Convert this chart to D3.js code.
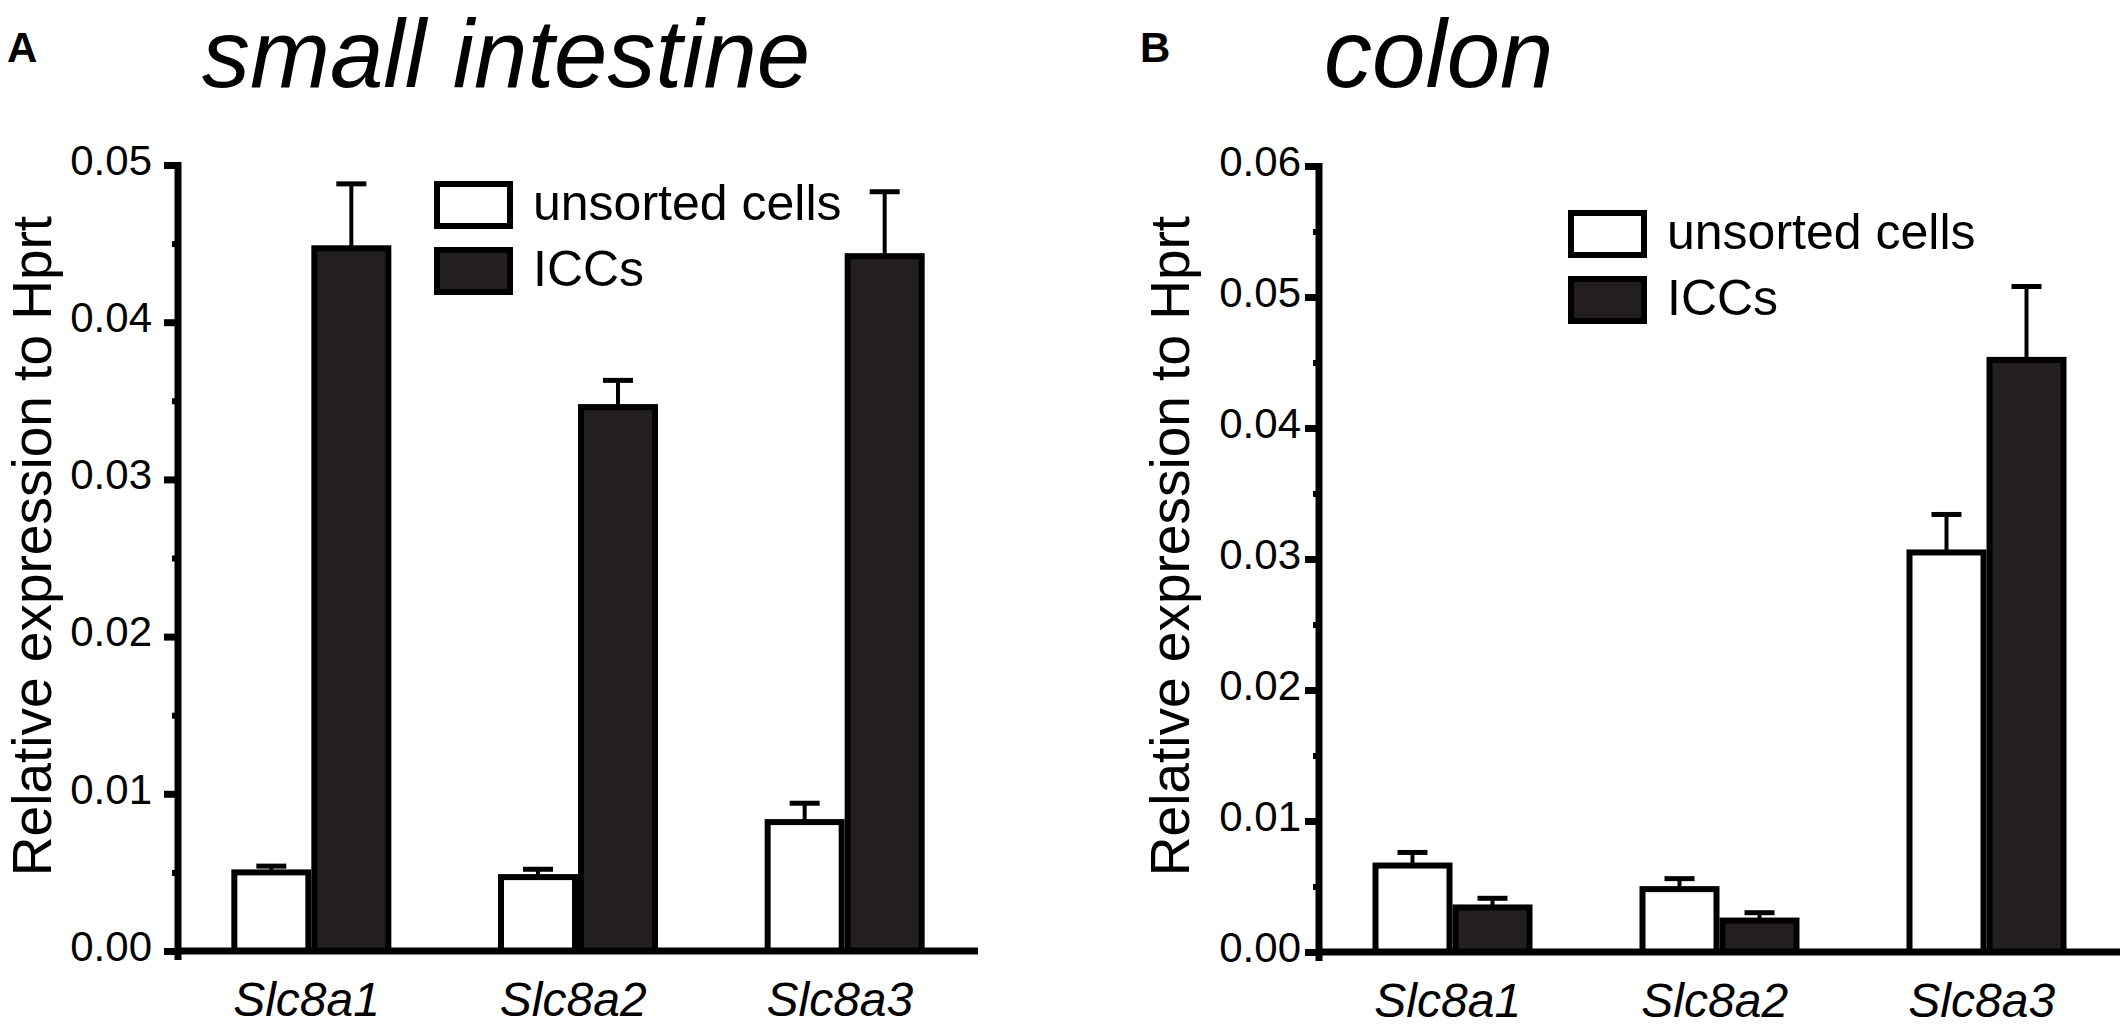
<!DOCTYPE html>
<html>
<head>
<meta charset="utf-8">
<script src="https://cdn.jsdelivr.net/npm/d3@7"></script>
<style>
  body { margin: 0; background: #fff; }
  svg { display: block; }
  text { font-family: "Liberation Sans", Arial, sans-serif; fill: #000; }
</style>
</head>
<body>
<div id="chart-container"></div>
<script>
// Data
const genes = ["Slc8a1", "Slc8a2", "Slc8a3"];
const groups = ["unsorted cells", "ICCs"];

// small intestine
const siUnsorted = [0.0050, 0.0047, 0.0082];
const siUnsortedErr = [0.0004, 0.0005, 0.0012];
const siIcc = [0.0447, 0.0346, 0.0442];
const siIccErr = [0.0041, 0.0017, 0.0041];
const siTicks = [0, 0.01, 0.02, 0.03, 0.04, 0.05];
const siTickLabels = ["0.00", "0.01", "0.02", "0.03", "0.04", "0.05"];

// colon
const colonUnsorted = [0.0066, 0.0048, 0.0305];
const colonUnsortedErr = [0.0010, 0.0008, 0.0029];
const colonIcc = [0.0034, 0.0024, 0.0452];
const colonIccErr = [0.0007, 0.0006, 0.0056];
const colonTicks = [0, 0.01, 0.02, 0.03, 0.04, 0.05, 0.06];
const colonTickLabels = ["0.00", "0.01", "0.02", "0.03", "0.04", "0.05", "0.06"];

const W = 2120, H = 1027;
const fillColors = ["#ffffff", "#231f20"];
const sw = 6; // bar outline width

const svg = d3.select("#chart-container")
  .append("svg")
  .attr("width", W)
  .attr("height", H);

function drawPanel(p) {
  const g = svg.append("g");

  const y = d3.scaleLinear()
    .domain([0, p.yMax])
    .range([p.y0, p.yTop]);

  const x0 = d3.scaleBand()
    .domain(genes)
    .range([p.left, p.right]);

  const x1 = d3.scaleBand()
    .domain(groups)
    .range([0, 160]);

  const rows = genes.map((gene, i) => ({
    gene,
    vals: [
      { group: groups[0], v: p.unsorted[i], e: p.unsortedErr[i] },
      { group: groups[1], v: p.icc[i], e: p.iccErr[i] }
    ]
  }));

  // bars
  const bar = g.selectAll(".grp")
    .data(rows)
    .join("g")
    .attr("transform", d => `translate(${x0(d.gene) + (x0.bandwidth() - 160) / 2},0)`);

  // error bars (drawn first, above bars only)
  bar.selectAll(".err")
    .data(d => d.vals)
    .join("line")
    .attr("x1", d => x1(d.group) + x1.bandwidth() / 2)
    .attr("x2", d => x1(d.group) + x1.bandwidth() / 2)
    .attr("y1", d => y(d.v))
    .attr("y2", d => y(d.v + d.e))
    .attr("stroke", "#000")
    .attr("stroke-width", 4);

  bar.selectAll(".cap")
    .data(d => d.vals)
    .join("line")
    .attr("x1", d => x1(d.group) + x1.bandwidth() / 2 - 15)
    .attr("x2", d => x1(d.group) + x1.bandwidth() / 2 + 15)
    .attr("y1", d => y(d.v + d.e))
    .attr("y2", d => y(d.v + d.e))
    .attr("stroke", "#000")
    .attr("stroke-width", 5);

  bar.selectAll("rect")
    .data(d => d.vals)
    .join("rect")
    .attr("x", d => x1(d.group) + sw / 2)
    .attr("width", x1.bandwidth() - sw)
    .attr("y", d => y(d.v))
    .attr("height", d => y(0) - y(d.v))
    .attr("fill", (d, i) => fillColors[i])
    .attr("stroke", "#000")
    .attr("stroke-width", sw);

  // minor ticks
  const minor = d3.range(0.005, p.yMax, 0.01);
  g.append("g")
    .attr("transform", `translate(${p.left},0)`)
    .call(d3.axisLeft(y).tickValues(minor).tickSize(6).tickFormat(""))
    .call(a => a.select(".domain").remove())
    .selectAll("line")
    .attr("stroke", "#000")
    .attr("stroke-width", 6);

  // y axis
  const yAxis = g.append("g")
    .attr("transform", `translate(${p.left},0)`)
    .call(d3.axisLeft(y)
      .tickValues(p.ticks)
      .tickFormat((d, i) => p.tickLabels[i])
      .tickSize(14)
      .tickSizeOuter(0)
      .tickPadding(p.labelPad));
  yAxis.select(".domain")
    .attr("d", `M0,${y(0) + 9}V${y(p.yMax) - 3}`)
    .attr("stroke", "#000")
    .attr("stroke-width", 7);
  yAxis.selectAll(".tick line")
    .attr("stroke", "#000")
    .attr("stroke-width", 7);
  yAxis.selectAll(".tick text")
    .attr("dy", "0.22em")
    .style("font-size", "42px")
    .style("font-family", "'Liberation Sans', Arial, sans-serif")
    .attr("fill", "#000");

  // x axis
  const xAxis = g.append("g")
    .attr("transform", `translate(0,${y(0)})`)
    .call(d3.axisBottom(x0).tickSize(0).tickSizeOuter(0).tickPadding(31));
  xAxis.select(".domain")
    .attr("d", `M${p.left - 3},0H${p.right}`)
    .attr("stroke", "#000")
    .attr("stroke-width", 7);
  xAxis.selectAll(".tick text")
    .attr("dx", "-0.1em")
    .style("font-size", "48px")
    .style("font-style", "italic")
    .style("font-family", "'Liberation Sans', Arial, sans-serif")
    .attr("fill", "#000");

  // y label
  g.append("text")
    .attr("transform", `translate(${p.yLabelX},546) rotate(-90)`)
    .attr("text-anchor", "middle")
    .style("font-size", "55px")
    .text("Relative expression to Hprt");

  // title and panel letter
  g.append("text")
    .attr("x", p.titleX)
    .attr("y", 87)
    .style("font-size", "96px")
    .style("font-style", "italic")
    .text(p.title);

  g.append("text")
    .attr("x", p.letterX)
    .attr("y", 62)
    .style("font-size", "42px")
    .style("font-weight", "bold")
    .text(p.letter);

  // legend
  const lg = g.append("g")
    .attr("transform", `translate(${p.legX},${p.legY})`);
  const item = lg.selectAll(".item")
    .data(groups)
    .join("g")
    .attr("transform", (d, i) => `translate(0,${i * 66})`);
  item.append("rect")
    .attr("x", sw / 2)
    .attr("y", sw / 2)
    .attr("width", 79 - sw)
    .attr("height", 48 - sw)
    .attr("fill", (d, i) => fillColors[i])
    .attr("stroke", "#000")
    .attr("stroke-width", sw);
  item.append("text")
    .attr("x", 99)
    .attr("y", 39)
    .style("font-size", "50px")
    .text(d => d);
}

drawPanel({
  title: "small intestine", letter: "A",
  unsorted: siUnsorted, unsortedErr: siUnsortedErr,
  icc: siIcc, iccErr: siIccErr,
  ticks: siTicks, tickLabels: siTickLabels,
  yMax: 0.05, y0: 951, yTop: 165,
  left: 178, right: 978, labelPad: 12,
  yLabelX: 51, titleX: 202, letterX: 7,
  legX: 434, legY: 181
});

drawPanel({
  title: "colon", letter: "B",
  unsorted: colonUnsorted, unsortedErr: colonUnsortedErr,
  icc: colonIcc, iccErr: colonIccErr,
  ticks: colonTicks, tickLabels: colonTickLabels,
  yMax: 0.06, y0: 952, yTop: 166,
  left: 1319, right: 2120, labelPad: 4,
  yLabelX: 1189, titleX: 1324, letterX: 1140,
  legX: 1568, legY: 210
});
</script>
</body>
</html>
